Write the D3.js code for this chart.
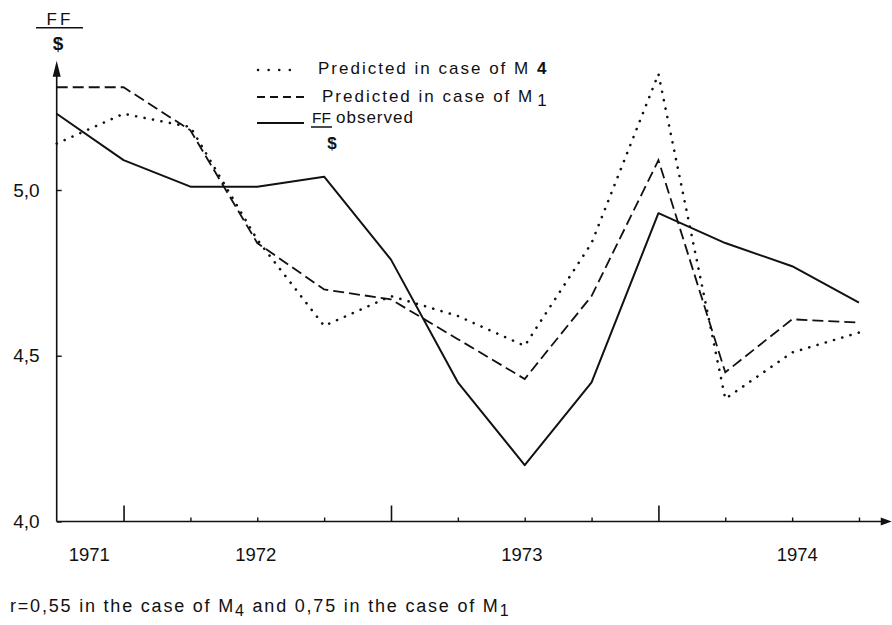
<!DOCTYPE html>
<html>
<head>
<meta charset="utf-8">
<script src="https://cdn.jsdelivr.net/npm/d3@7"></script>
<style>
  html, body { margin: 0; padding: 0; background: #fff; }
  svg { display: block; font-family: "Liberation Sans", Arial, Helvetica, sans-serif; }
</style>
</head>
<body>
<svg id="chart" width="892" height="625"></svg>
<script>
// ---- data (quarterly periods, FF per $) ----
const periods      = [0, 1, 2, 3, 4, 5, 6, 7, 8, 9, 10, 11, 12];
const observed     = [5.23, 5.09, 5.01, 5.01, 5.04, 4.79, 4.42, 4.17, 4.42, 4.93, 4.84, 4.77, 4.66];
const predictedM1  = [5.31, 5.31, 5.18, 4.84, 4.70, 4.67, 4.55, 4.43, 4.68, 5.09, 4.45, 4.61, 4.60];
const predictedM4  = [5.14, 5.23, 5.19, 4.85, 4.59, 4.68, 4.62, 4.53, 4.84, 5.35, 4.37, 4.51, 4.57];
const majorTicks   = [1, 5, 9];
const minorTicks   = [2, 3, 4, 6, 7, 8, 10, 11, 12];
const yearLabels   = ["1971", "1972", "1973", "1974"];
const yearLabelPos = [0.48, 2.97, 6.95, 11.07];
const yTickValues  = [4.0, 4.5, 5.0];
const yTickLabels  = ["4,0", "4,5", "5,0"];

const svg = d3.select("#chart");
const x = d3.scaleLinear().domain([0, 12]).range([56.7, 859]);
const y = d3.scaleLinear().domain([4, 5]).range([521.5, 190]);

const ink = "#111";

// ---- axes lines with arrows ----
const xEnd = x(12.49), yTop = y(5.39);
svg.append("line").attr("x1", x(0)).attr("x2", xEnd - 6).attr("y1", y(4)).attr("y2", y(4))
  .attr("stroke", ink).attr("stroke-width", 1.6);
svg.append("path").attr("d", `M${xEnd},${y(4)} L${xEnd - 11},${y(4) - 4} L${xEnd - 11},${y(4) + 4} Z`).attr("fill", ink);
svg.append("line").attr("x1", x(0)).attr("x2", x(0)).attr("y1", y(4)).attr("y2", yTop + 8)
  .attr("stroke", ink).attr("stroke-width", 1.6);
svg.append("path").attr("d", `M${x(0)},${yTop} L${x(0) - 4},${yTop + 16} L${x(0) + 4},${yTop + 16} Z`).attr("fill", ink);

// ---- x ticks via d3 axes ----
const gx = svg.append("g").attr("transform", `translate(0,${y(4)})`);
gx.append("g").call(d3.axisBottom(x).tickValues(minorTicks).tickSize(-4).tickFormat(""))
  .call(g => g.select(".domain").remove())
  .call(g => g.selectAll("line").attr("stroke", ink).attr("stroke-width", 1.4));
gx.append("g").call(d3.axisBottom(x).tickValues(majorTicks).tickSize(-16).tickFormat(""))
  .call(g => g.select(".domain").remove())
  .call(g => g.selectAll("line").attr("stroke", ink).attr("stroke-width", 1.6));
gx.append("g").call(d3.axisBottom(x).tickValues(yearLabelPos).tickSize(0).tickPadding(26)
    .tickFormat((d, i) => yearLabels[i]))
  .call(g => g.select(".domain").remove())
  .call(g => g.selectAll("text").attr("fill", ink).attr("font-size", 18.5)
    .attr("font-family", "'Liberation Sans', Arial, sans-serif"));

// ---- y ticks via d3 axis ----
svg.append("g").attr("transform", `translate(${x(0)},0)`)
  .call(d3.axisLeft(y).tickValues(yTickValues).tickSize(-5).tickPadding(17)
    .tickFormat((d, i) => yTickLabels[i]))
  .call(g => g.select(".domain").remove())
  .call(g => g.selectAll("line").attr("stroke", ink).attr("stroke-width", 1.4))
  .call(g => g.selectAll("text").attr("fill", ink).attr("font-size", 19)
    .attr("font-family", "'Liberation Sans', Arial, sans-serif"));

// ---- y unit label FF / $ ----
svg.append("text").attr("x", 60).attr("y", 25).attr("text-anchor", "middle")
  .attr("font-size", 17).attr("letter-spacing", 3).attr("fill", ink).text("FF");
svg.append("line").attr("x1", 36).attr("x2", 83).attr("y1", 27.7).attr("y2", 27.7)
  .attr("stroke", ink).attr("stroke-width", 1.6);
svg.append("text").attr("x", 58).attr("y", 50).attr("text-anchor", "middle")
  .attr("font-size", 19).attr("font-weight", "bold").attr("fill", ink).text("$");

// ---- lines ----
const line = (vals) => d3.line().x((d, i) => x(periods[i])).y(d => y(d))(vals);
svg.append("path").attr("d", line(predictedM4)).attr("fill", "none").attr("stroke", ink)
  .attr("stroke-width", 2.6).attr("stroke-linecap", "round").attr("stroke-dasharray", "0.1 8.5");
svg.append("path").attr("d", line(predictedM1)).attr("fill", "none").attr("stroke", ink)
  .attr("stroke-width", 1.8).attr("stroke-dasharray", "11 5");
svg.append("path").attr("d", line(observed)).attr("fill", "none").attr("stroke", ink)
  .attr("stroke-width", 2).attr("stroke-linejoin", "round");

// ---- legend ----
const lg = svg.append("g").attr("fill", ink).attr("font-size", 17);
lg.append("line").attr("x1", 258).attr("x2", 300).attr("y1", 70).attr("y2", 70)
  .attr("stroke", ink).attr("stroke-width", 2.5).attr("stroke-linecap", "round").attr("stroke-dasharray", "0.1 10.5");
const t1 = lg.append("text").attr("x", 318).attr("y", 74).attr("letter-spacing", 2);
t1.append("tspan").text("Predicted in case of M ");
t1.append("tspan").attr("font-weight", "bold").text("4");

lg.append("line").attr("x1", 257).attr("x2", 304).attr("y1", 97).attr("y2", 97)
  .attr("stroke", ink).attr("stroke-width", 1.8).attr("stroke-dasharray", "8 5");
const t2 = lg.append("text").attr("x", 322).attr("y", 101.5).attr("letter-spacing", 2);
t2.append("tspan").text("Predicted in case of M");
t2.append("tspan").attr("dy", 4).attr("dx", 3).text("1");

lg.append("line").attr("x1", 257).attr("x2", 304).attr("y1", 123).attr("y2", 123)
  .attr("stroke", ink).attr("stroke-width", 1.8);
lg.append("text").attr("x", 312).attr("y", 123).attr("font-size", 15.5).text("FF");
lg.append("line").attr("x1", 311).attr("x2", 332).attr("y1", 127).attr("y2", 127)
  .attr("stroke", ink).attr("stroke-width", 1.5);
lg.append("text").attr("x", 332).attr("y", 149).attr("text-anchor", "middle")
  .attr("font-weight", "bold").attr("font-size", 17).text("$");
lg.append("text").attr("x", 336).attr("y", 123).attr("letter-spacing", 1).text("observed");

// ---- note ----
const note = svg.append("text").attr("x", 10).attr("y", 612).attr("font-size", 18)
  .attr("letter-spacing", 1.8).attr("fill", ink);
note.append("tspan").text("r=0,55 in the case of M");
note.append("tspan").attr("dy", 4).attr("font-size", 16).text("4");
note.append("tspan").attr("dy", -4).text(" and 0,75 in the case of M");
note.append("tspan").attr("dy", 4).attr("font-size", 16).text("1");
</script>
</body>
</html>
